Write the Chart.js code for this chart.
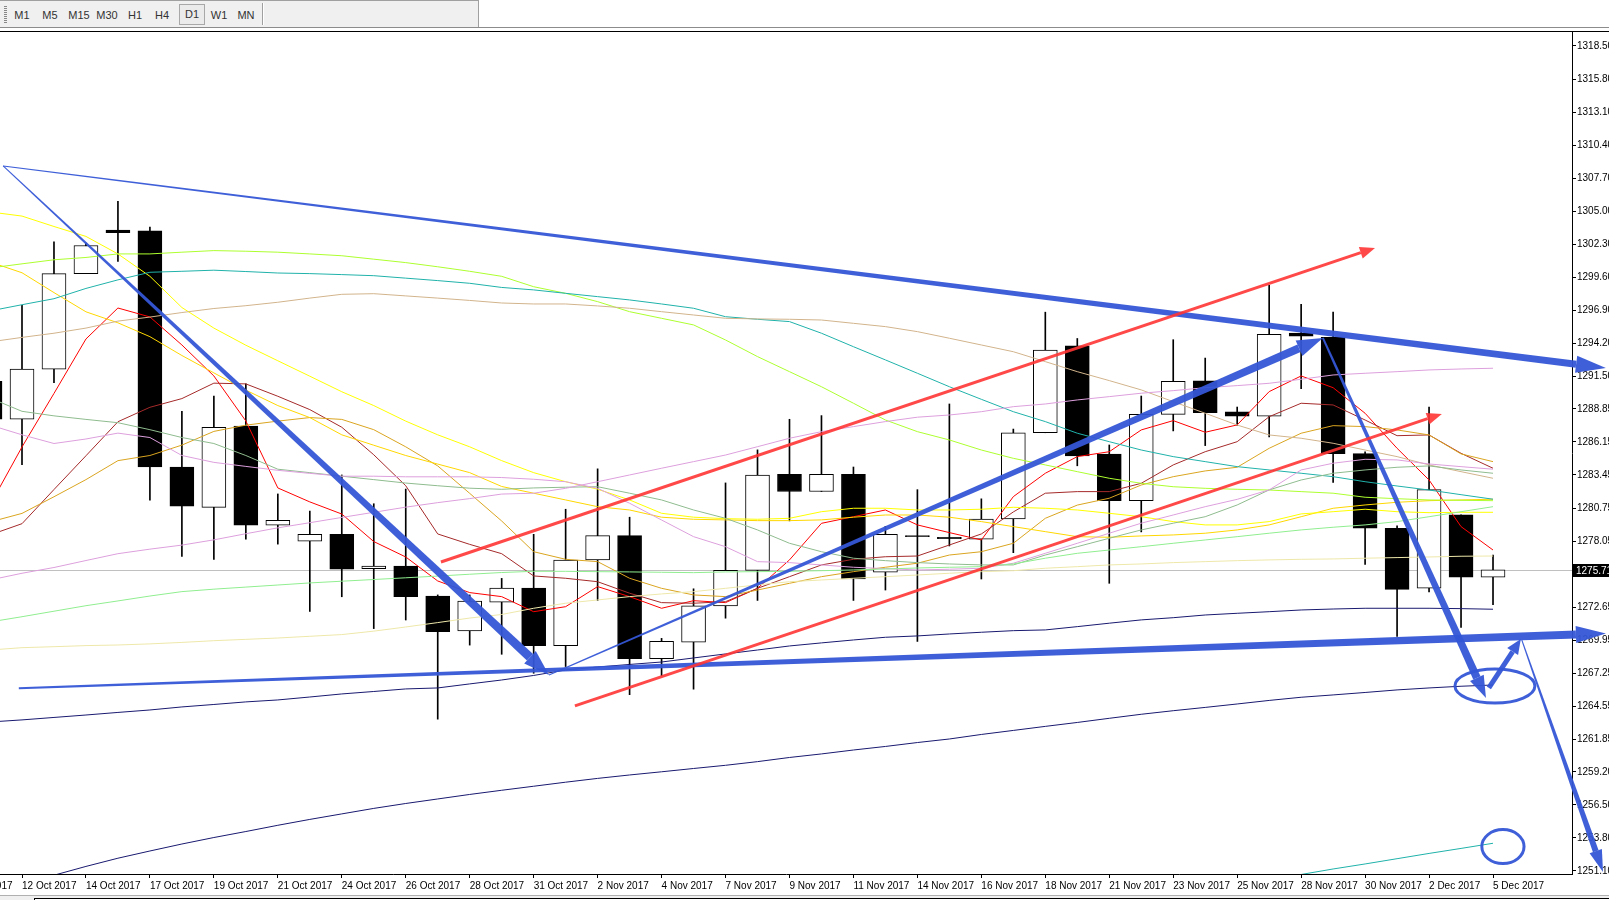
<!DOCTYPE html>
<html>
<head>
<meta charset="utf-8">
<script src="https://cdn.jsdelivr.net/npm/chart.js@4.4.1/dist/chart.umd.min.js"></script>
<style>
  html, body { margin: 0; padding: 0; background: #fff; }
  body { width: 1609px; height: 900px; position: relative; overflow: hidden; font-family: "Liberation Sans", Arial, sans-serif; }
  .bar { position: absolute; left: 0; top: 0; width: 478px; height: 26px; background: #f0f0f0; border-top: 1px solid #a0a0a0; border-right: 1px solid #a0a0a0; }
  .grip { position: absolute; left: 4px; top: 5px; width: 3px; height: 17px; background: repeating-linear-gradient(#888 0 1px, transparent 1px 2px); }
  .sep { position: absolute; left: 262px; top: 2px; width: 1px; height: 22px; background: #a0a0a0; border-right: 1px solid #fff; }
  .tf { position: absolute; top: 8px; width: 30px; text-align: center; font-size: 11px; line-height: 13px; color: #333; }
  .tf.on { top: 3px; height: 19px; line-height: 19px; border: 1px solid #a8a8a8; background: #ebebeb; width: 24px; }
  .hline { position: absolute; left: 0; width: 1609px; height: 1px; }
  .foot { position: absolute; left: 0; top: 895px; width: 1609px; height: 5px; background: #f0f0f0; border-top: 1px solid #b0b0b0; }
  .foot i { position: absolute; left: 34px; top: 2px; width: 1575px; height: 3px; border-top: 1px solid #000; border-left: 1px solid #000; background: #fff; }
  #wrap { position: absolute; left: 0; top: 32px; width: 1609px; height: 868px; }
</style>
</head>
<body>
<div class="bar">
  <div class="grip"></div>
  <div class="tf" style="left:7px">M1</div>
  <div class="tf" style="left:35px">M5</div>
  <div class="tf" style="left:64px">M15</div>
  <div class="tf" style="left:92px">M30</div>
  <div class="tf" style="left:120px">H1</div>
  <div class="tf" style="left:147px">H4</div>
  <div class="tf on" style="left:179px">D1</div>
  <div class="tf" style="left:204px">W1</div>
  <div class="tf" style="left:231px">MN</div>
  <div class="sep"></div>
</div>
<div class="hline" style="top:27px;background:#8c8c8c"></div>
<div class="hline" style="top:31px;background:#000"></div>
<div id="wrap"><canvas id="chart" width="1609" height="868"></canvas></div>
<div class="foot"><i></i></div>

<script>
// bar positions (0 = 12 Oct 2017), daily candles
const bars = [-1, 0, 1, 2, 3, 4, 5, 6, 7, 8, 9, 10, 11, 12, 13, 14, 15, 16, 17, 18, 19, 20, 21, 22, 23,
  24, 25, 26, 27, 28, 29, 30, 31, 32, 33, 34, 35, 36, 37, 38, 39, 40, 41, 42, 43, 44, 45, 46];

const open = [1291.1, 1288.0, 1292.1, 1299.9, 1303.45, 1303.4, 1284.1, 1280.8, 1287.45, 1279.35, 1278.05, 1278.6,
  1275.8, 1276.0, 1273.55, 1270.7, 1273.05, 1274.2, 1269.5, 1276.5, 1278.5, 1268.45, 1269.8, 1272.75, 1275.65,
  1283.5, 1282.1, 1283.5, 1275.5, 1278.5, 1278.35, 1278.2, 1279.85, 1286.9, 1294.0, 1285.15, 1281.35, 1288.4,
  1291.15, 1288.6, 1288.25, 1295.05, 1294.7, 1285.2, 1279.1, 1274.2, 1280.2, 1275.1];
const high = [1292.5, 1297.3, 1302.5, 1302.4, 1305.8, 1303.7, 1288.65, 1289.9, 1290.9, 1281.9, 1280.5, 1283.45,
  1281.1, 1282.3, 1273.65, 1273.65, 1275.0, 1278.6, 1280.65, 1283.95, 1280.0, 1270.1, 1274.15, 1282.8, 1285.5,
  1288.0, 1288.3, 1284.1, 1279.25, 1282.25, 1289.25, 1281.5, 1287.2, 1296.75, 1294.6, 1285.9, 1289.9, 1294.5,
  1293.0, 1289.0, 1298.95, 1297.4, 1296.75, 1285.35, 1279.3, 1289.0, 1280.2, 1276.9];
const low = [1287.0, 1284.3, 1291.0, 1299.9, 1300.9, 1281.4, 1276.8, 1276.55, 1278.2, 1277.8, 1272.3, 1273.5,
  1270.9, 1271.6, 1263.5, 1269.55, 1268.8, 1267.25, 1267.8, 1273.2, 1265.5, 1267.05, 1265.95, 1271.75, 1273.2,
  1279.7, 1282.1, 1273.2, 1274.05, 1269.85, 1277.65, 1274.95, 1277.1, 1286.9, 1284.2, 1274.6, 1278.8, 1287.05,
  1285.85, 1287.5, 1286.55, 1290.5, 1282.85, 1276.15, 1270.25, 1273.9, 1271.0, 1272.85];
const close = [1288.0, 1292.1, 1299.9, 1302.2, 1303.25, 1284.1, 1280.9, 1287.35, 1279.35, 1279.75, 1278.6, 1275.75,
  1276.0, 1273.5, 1270.65, 1273.15, 1274.2, 1269.5, 1276.5, 1278.5, 1268.45, 1269.85, 1272.75, 1275.65, 1283.45,
  1282.1, 1283.5, 1274.95, 1278.6, 1278.4, 1278.25, 1279.85, 1286.9, 1293.65, 1285.0, 1281.35, 1288.4, 1291.1,
  1288.55, 1288.25, 1294.95, 1294.8, 1285.2, 1279.1, 1274.1, 1282.25, 1275.1, 1275.71];

const lastPrice = 1275.71;

// moving averages, one value per bar
const maRed = [1281.0, 1285.74, 1290.11, 1294.56, 1297.09, 1296.36, 1294.07, 1291.54, 1287.86, 1282.39, 1281.25, 1280.26,
  1278.01, 1276.75, 1274.79, 1273.84, 1273.51, 1272.28, 1272.69, 1274.33, 1273.51, 1272.56, 1273.18, 1273.02, 1274.19,
  1276.51, 1279.5, 1280.04, 1280.59, 1279.37, 1278.74, 1278.14, 1281.68, 1283.59, 1284.95, 1285.35, 1287.13, 1287.89,
  1286.94, 1287.54, 1290.26, 1291.54, 1290.58, 1288.49, 1285.63, 1283.04, 1279.23, 1277.32];
const maBrown = [1278.55, 1279.47, 1282.26, 1285.02, 1287.8, 1288.98, 1289.69, 1290.95, 1290.89, 1289.88, 1288.79, 1287.35,
  1285.1, 1282.57, 1278.63, 1277.78, 1277.02, 1275.2, 1275.01, 1274.73, 1273.79, 1273.02, 1272.97, 1273.1, 1274.19,
  1275.14, 1276.1, 1276.56, 1276.77, 1276.83, 1277.73, 1278.63, 1280.43, 1281.96, 1282.09, 1282.09, 1282.77, 1284.27,
  1285.35, 1286.17, 1288.21, 1289.31, 1289.17, 1287.94, 1286.66, 1286.72, 1285.22, 1284.0];
const maOrange = [1279.61, 1280.31, 1281.67, 1283.07, 1284.62, 1285.04, 1285.89, 1287.01, 1287.52, 1287.85, 1288.14, 1287.99,
  1287.15, 1285.75, 1284.19, 1281.95, 1279.69, 1277.18, 1276.56, 1276.37, 1275.01, 1274.19, 1273.65, 1273.51, 1274.05,
  1274.6, 1275.14, 1275.55, 1275.91, 1276.24, 1276.91, 1277.18, 1277.87, 1279.91, 1280.99, 1281.55, 1282.63, 1283.31,
  1283.78, 1284.08, 1285.63, 1286.86, 1287.48, 1287.4, 1287.13, 1286.72, 1285.17, 1284.54];
const maGold = [1300.85, 1299.97, 1298.35, 1296.78, 1295.88, 1294.75, 1293.21, 1291.79, 1290.38, 1289.12, 1288.14, 1286.73,
  1285.88, 1285.04, 1284.34, 1283.64, 1282.51, 1281.96, 1281.41, 1280.86, 1280.59, 1280.0, 1279.83, 1279.78, 1279.72,
  1279.72, 1279.78, 1280.0, 1280.18, 1280.18, 1280.0, 1279.64, 1279.23, 1278.82, 1278.41, 1278.36, 1278.47, 1278.55,
  1278.69, 1278.96, 1279.37, 1280.04, 1280.73, 1281.0, 1281.22, 1281.35, 1281.41, 1281.47];
const maYellow = [1304.94, 1304.6, 1303.75, 1302.94, 1301.51, 1299.68, 1297.13, 1295.45, 1294.05, 1292.78, 1291.52, 1290.25,
  1289.12, 1287.85, 1286.73, 1285.75, 1284.62, 1283.64, 1282.9, 1282.29, 1281.41, 1280.32, 1280.0, 1279.88, 1279.83,
  1279.91, 1280.45, 1280.73, 1280.73, 1280.59, 1280.59, 1280.65, 1280.81, 1280.73, 1280.59, 1280.32, 1280.04, 1279.64,
  1279.37, 1279.37, 1279.64, 1280.27, 1280.45, 1280.65, 1280.45, 1280.37, 1280.4, 1280.4];
const maGreenYellow = [1300.36, 1300.7, 1301.03, 1301.22, 1301.51, 1301.51, 1301.65, 1301.78, 1301.73, 1301.65, 1301.51, 1301.36,
  1301.08, 1300.8, 1300.46, 1300.09, 1299.68, 1298.83, 1298.29, 1297.61, 1296.79, 1296.25, 1295.71, 1294.48, 1293.12,
  1291.89, 1290.66, 1289.31, 1287.94, 1286.99, 1286.31, 1285.49, 1284.81, 1284.27, 1283.72, 1283.18, 1282.77, 1282.49,
  1282.36, 1282.28, 1282.22, 1282.09, 1281.96, 1281.63, 1281.51, 1281.41, 1281.38, 1281.35];
const maSeaGreen = [1296.85, 1297.36, 1297.85, 1298.69, 1299.39, 1300.01, 1300.09, 1300.18, 1300.07, 1299.95, 1299.9, 1299.82,
  1299.73, 1299.53, 1299.33, 1299.11, 1298.77, 1298.57, 1298.29, 1298.02, 1297.75, 1297.42, 1297.07, 1296.38, 1296.17,
  1295.98, 1295.03, 1293.93, 1292.85, 1291.76, 1290.66, 1289.63, 1288.62, 1287.81, 1286.86, 1286.17, 1285.49, 1284.95,
  1284.54, 1284.13, 1283.86, 1283.59, 1283.31, 1282.9, 1282.55, 1282.22, 1281.84, 1281.47];
const maTan = [1294.32, 1294.69, 1295.03, 1295.45, 1296.02, 1296.35, 1296.72, 1297.05, 1297.28, 1297.56, 1297.9, 1298.21,
  1298.26, 1298.08, 1297.9, 1297.71, 1297.5, 1297.42, 1297.42, 1297.26, 1297.07, 1296.79, 1296.52, 1296.25, 1296.2,
  1296.17, 1296.11, 1295.84, 1295.57, 1295.16, 1294.62, 1294.07, 1293.52, 1292.71, 1291.89, 1291.16, 1290.4, 1289.44,
  1288.49, 1287.53, 1286.72, 1286.45, 1286.04, 1285.49, 1284.95, 1284.27, 1283.72, 1283.18];
const maDarkSea = [1289.74, 1288.65, 1288.28, 1287.99, 1287.72, 1287.15, 1286.51, 1286.02, 1285.04, 1283.92, 1283.64, 1283.35,
  1283.07, 1282.79, 1282.57, 1282.37, 1282.28, 1282.39, 1282.45, 1282.49, 1281.96, 1281.41, 1280.59, 1279.91, 1278.96,
  1277.87, 1277.18, 1276.65, 1276.45, 1276.29, 1276.18, 1276.1, 1276.1, 1276.91, 1277.59, 1278.28, 1278.96, 1279.51,
  1280.04, 1281.0, 1282.23, 1283.04, 1283.59, 1283.86, 1284.08, 1284.19, 1283.86, 1283.59];
const maPlum = [1287.53, 1286.73, 1286.02, 1286.39, 1286.87, 1286.51, 1285.04, 1284.48, 1284.15, 1283.83, 1283.58, 1283.35,
  1283.35, 1283.3, 1283.3, 1283.3, 1283.24, 1283.1, 1282.9, 1282.36, 1281.14, 1279.77, 1278.41, 1277.59, 1276.37,
  1276.29, 1276.1, 1275.91, 1275.8, 1275.69, 1275.75, 1275.83, 1276.24, 1277.05, 1277.87, 1278.69, 1279.51, 1280.18,
  1280.86, 1281.46, 1282.23, 1283.86, 1284.41, 1284.73, 1284.68, 1284.35, 1284.13, 1283.92];
const maViolet = [1274.87, 1275.42, 1275.89, 1276.46, 1277.02, 1277.39, 1277.72, 1278.15, 1278.65, 1279.13, 1279.55, 1279.98,
  1280.4, 1280.82, 1281.19, 1281.52, 1281.89, 1281.96, 1282.36, 1282.9, 1283.45, 1284.0, 1284.54, 1285.08, 1285.76,
  1286.45, 1286.99, 1287.4, 1287.81, 1288.17, 1288.35, 1288.62, 1289.03, 1289.25, 1289.58, 1289.85, 1290.13, 1290.34,
  1290.58, 1290.75, 1290.94, 1291.27, 1291.62, 1291.76, 1291.89, 1292.03, 1292.11, 1292.17];
const maLightGreen = [1271.44, 1271.87, 1272.32, 1272.77, 1273.16, 1273.56, 1273.92, 1274.12, 1274.29, 1274.46, 1274.63, 1274.77,
  1274.91, 1275.05, 1275.19, 1275.34, 1275.48, 1275.58, 1275.58, 1275.55, 1275.53, 1275.5, 1275.47, 1275.53, 1275.55,
  1275.58, 1275.63, 1275.69, 1275.77, 1275.85, 1275.91, 1275.96, 1276.18, 1276.65, 1277.05, 1277.32, 1277.59, 1277.87,
  1278.14, 1278.41, 1278.69, 1278.96, 1279.18, 1279.37, 1279.64, 1280.04, 1280.45, 1280.86];
const maPaleGold = [1269.15, 1269.34, 1269.42, 1269.51, 1269.56, 1269.65, 1269.77, 1269.91, 1270.02, 1270.13, 1270.27, 1270.41,
  1270.69, 1271.03, 1271.39, 1271.76, 1272.05, 1272.56, 1272.97, 1273.24, 1273.51, 1273.73, 1273.92, 1274.19, 1274.47,
  1274.73, 1274.87, 1275.01, 1275.14, 1275.28, 1275.42, 1275.55, 1275.63, 1275.83, 1275.96, 1276.1, 1276.18, 1276.29,
  1276.37, 1276.45, 1276.51, 1276.56, 1276.59, 1276.65, 1276.7, 1276.75, 1276.81, 1276.83];
const maNavy = [1263.27, 1263.44, 1263.64, 1263.84, 1264.05, 1264.25, 1264.5, 1264.7, 1264.91, 1265.07, 1265.31, 1265.56,
  1265.76, 1265.97, 1266.05, 1266.38, 1266.7, 1267.07, 1267.52, 1267.76, 1267.97, 1268.17, 1268.5, 1268.83, 1269.15,
  1269.48, 1269.73, 1269.97, 1270.19, 1270.3, 1270.46, 1270.6, 1270.73, 1270.79, 1271.06, 1271.34, 1271.61, 1271.79,
  1272.01, 1272.15, 1272.28, 1272.42, 1272.5, 1272.56, 1272.56, 1272.56, 1272.53, 1272.48];
const maNavySlow = [null, 1250.04, 1250.75, 1251.47, 1252.14, 1252.73, 1253.3, 1253.83, 1254.32, 1254.83, 1255.31, 1255.76,
  1256.21, 1256.61, 1256.98, 1257.35, 1257.69, 1258.02, 1258.35, 1258.66, 1258.94, 1259.2, 1259.47, 1259.73, 1260.03,
  1260.37, 1260.66, 1260.98, 1261.27, 1261.59, 1261.88, 1262.25, 1262.58, 1262.91, 1263.23, 1263.57, 1263.9, 1264.19,
  1264.46, 1264.74, 1265.03, 1265.29, 1265.48, 1265.68, 1265.89, 1266.05, 1266.19, 1266.29];
const tealBars = [39, 40, 41, 42, 43, 44, 45, 46];
const maTealSlow = [1250.4, 1250.81, 1251.26, 1251.67, 1252.1, 1252.53, 1252.94, 1253.36];

// axis labels
const xLabels = ['10 Oct 2017', '12 Oct 2017', '14 Oct 2017', '17 Oct 2017', '19 Oct 2017', '21 Oct 2017',
  '24 Oct 2017', '26 Oct 2017', '28 Oct 2017', '31 Oct 2017', '2 Nov 2017', '4 Nov 2017', '7 Nov 2017',
  '9 Nov 2017', '11 Nov 2017', '14 Nov 2017', '16 Nov 2017', '18 Nov 2017', '21 Nov 2017', '23 Nov 2017',
  '25 Nov 2017', '28 Nov 2017', '30 Nov 2017', '2 Dec 2017', '5 Dec 2017'];
const xLabelBars = [-2, 0, 2, 4, 6, 8, 10, 12, 14, 16, 18, 20, 22, 24, 26, 28, 30, 32, 34, 36, 38, 40, 42, 44, 46];
const yTicks = [1318.50, 1315.80, 1313.10, 1310.40, 1307.70, 1305.00, 1302.30, 1299.60, 1296.90, 1294.20, 1291.50,
  1288.85, 1286.15, 1283.45, 1280.75, 1278.05, 1275.35, 1272.65, 1269.95, 1267.25, 1264.55, 1261.85, 1259.20,
  1256.50, 1253.80, 1251.10];

// hand drawn objects: [bar, bar] and [price, price] anchors
const arrowBars = [[-0.59, 49.53], [-0.59, 16.48], [-0.10, 49.53], [16.48, 40.68], [40.68, 45.78],
  [45.87, 46.87], [46.90, 49.44], [13.10, 42.31], [17.29, 44.40]];
const arrowPrices = [[1308.70, 1292.19], [1308.70, 1267.11], [1266.03, 1270.50], [1267.11, 1294.65], [1294.65, 1265.23],
  [1266.05, 1270.05], [1269.97, 1251.02], [1276.34, 1302.00], [1264.58, 1288.44]];
const ringBars = [46.06, 46.31];
const ringPrices = [1266.21, 1253.09];
const ringHalfBars = [1.25, 0.66];
const ringHalfPrices = [1.39, 1.39];

const BLUE = 'rgba(52, 86, 214, 0.95)';
const RED = 'rgba(255, 52, 52, 0.9)';
const arrowStyle = [
  { c: BLUE, w0: 1, w1: 7, hl: 30, hw: 17 },
  { c: BLUE, w0: 1, w1: 9, hl: 26, hw: 17 },
  { c: BLUE, w0: 2, w1: 8, hl: 30, hw: 17 },
  { c: BLUE, w0: 1, w1: 8, hl: 26, hw: 17 },
  { c: BLUE, w0: 2, w1: 8, hl: 22, hw: 15 },
  { c: BLUE, w0: 5, w1: 5, hl: 15, hw: 13 },
  { c: BLUE, w0: 1, w1: 6, hl: 22, hw: 13 },
  { c: RED, w0: 3, w1: 3, hl: 15, hw: 12 },
  { c: RED, w0: 3, w1: 3, hl: 15, hw: 12 }
];

function drawArrow(ctx, x1, y1, x2, y2, s) {
  const len = Math.hypot(x2 - x1, y2 - y1);
  const ux = (x2 - x1) / len, uy = (y2 - y1) / len;
  const nx = -uy, ny = ux;
  const bx = x2 - ux * s.hl, by = y2 - uy * s.hl;
  ctx.fillStyle = s.c;
  ctx.beginPath();
  ctx.moveTo(x1 + nx * s.w0 / 2, y1 + ny * s.w0 / 2);
  ctx.lineTo(bx + nx * s.w1 / 2, by + ny * s.w1 / 2);
  ctx.lineTo(bx - nx * s.w1 / 2, by - ny * s.w1 / 2);
  ctx.lineTo(x1 - nx * s.w0 / 2, y1 - ny * s.w0 / 2);
  ctx.closePath();
  ctx.fill();
  ctx.beginPath();
  ctx.moveTo(x2, y2);
  ctx.lineTo(bx + nx * s.hw / 2, by + ny * s.hw / 2);
  ctx.lineTo(bx - nx * s.hw / 2, by - ny * s.hw / 2);
  ctx.closePath();
  ctx.fill();
}

const markup = {
  id: 'markup',
  beforeDatasetsDraw(chart) {
    const { ctx, chartArea: a, scales: { y } } = chart;
    const py = Math.round(y.getPixelForValue(lastPrice)) + 0.5;
    ctx.save();
    ctx.strokeStyle = '#c0c0c0';
    ctx.lineWidth = 1;
    ctx.beginPath();
    ctx.moveTo(a.left, py);
    ctx.lineTo(a.right, py);
    ctx.stroke();
    ctx.restore();
  },
  afterDatasetsDraw(chart) {
    const { ctx, chartArea: a, scales: { x, y } } = chart;
    ctx.save();
    // last price tag on the axis
    const py = Math.round(y.getPixelForValue(lastPrice));
    ctx.fillStyle = '#000';
    ctx.fillRect(a.right + 1, py - 6, chart.width - a.right, 13);
    ctx.fillStyle = '#fff';
    ctx.font = '10px "Liberation Sans"';
    ctx.textBaseline = 'middle';
    ctx.fillText(lastPrice.toFixed(2), a.right + 4, py + 1);

    arrowBars.forEach((b, k) => {
      const p = arrowPrices[k];
      drawArrow(ctx, x.getPixelForValue(b[0]), y.getPixelForValue(p[0]),
        x.getPixelForValue(b[1]), y.getPixelForValue(p[1]), arrowStyle[k]);
    });

    ctx.strokeStyle = BLUE;
    ctx.lineWidth = 3;
    ringBars.forEach((b, k) => {
      const cx = x.getPixelForValue(b), cy = y.getPixelForValue(ringPrices[k]);
      const rx = x.getPixelForValue(b + ringHalfBars[k]) - cx;
      const ry = cy - y.getPixelForValue(ringPrices[k] + ringHalfPrices[k]);
      ctx.beginPath();
      ctx.ellipse(cx, cy, rx, ry, 0, 0, Math.PI * 2);
      ctx.stroke();
    });
    ctx.restore();
  }
};

const maLines = [
  [maPaleGold, '#eee8aa'], [maLightGreen, '#90ee90'], [maViolet, '#dda0dd'], [maPlum, '#dda0dd'],
  [maDarkSea, '#8fbc8f'], [maTan, '#d2b48c'], [maSeaGreen, '#20b2aa'], [maGreenYellow, '#adff2f'],
  [maYellow, '#ffff00'], [maGold, '#ffd700'], [maOrange, '#daa520'], [maBrown, '#a52a2a'],
  [maRed, '#ff0000'], [maNavy, '#191970'], [maNavySlow, '#191970']
];

const datasets = maLines.map(([vals, color]) => ({
  type: 'line',
  data: bars.map((b, k) => ({ x: b, y: vals[k] })),
  borderColor: color,
  borderWidth: 1,
  pointRadius: 0,
  tension: 0,
  order: 5
}));
datasets.push({
  type: 'line',
  data: tealBars.map((b, k) => ({ x: b, y: maTealSlow[k] })),
  borderColor: '#20b2aa', borderWidth: 1, pointRadius: 0, tension: 0, order: 5
});
datasets.push({
  type: 'bar',
  data: bars.map((b, k) => ({ x: b, y: [open[k], close[k]] })),
  backgroundColor: bars.map((b, k) => close[k] >= open[k] ? '#ffffff' : '#000000'),
  borderColor: '#000',
  borderWidth: 1,
  borderSkipped: false,
  barThickness: 24,
  grouped: false,
  order: 20
});
datasets.push({
  type: 'bar',
  data: bars.map((b, k) => ({ x: b, y: [low[k], high[k]] })),
  backgroundColor: '#000',
  borderWidth: 0,
  barThickness: 1,
  grouped: false,
  order: 30
});

const tickFont = { family: 'Liberation Sans', size: 10 };

new Chart(document.getElementById('chart'), {
  type: 'line',
  data: { datasets },
  options: {
    responsive: false,
    animation: false,
    events: [],
    layout: { padding: 0 },
    plugins: { legend: { display: false }, tooltip: { enabled: false } },
    scales: {
      x: {
        type: 'linear',
        min: -0.688,
        max: 48.47,
        offset: false,
        grid: { display: true, offset: false, drawOnChartArea: false, drawTicks: true, tickLength: 4, color: '#000' },
        border: { display: true, color: '#000', width: 1 },
        ticks: {
          autoSkip: false, maxRotation: 0, minRotation: 0, align: 'start', padding: 2,
          color: '#000', font: tickFont,
          callback: (v, i) => xLabels[i]
        },
        afterBuildTicks: s => { s.ticks = xLabelBars.map(v => ({ value: v })); },
        afterFit: s => { s.height = 26; s.paddingLeft = 0; s.paddingRight = 0; s.paddingTop = 0; s.paddingBottom = 0; }
      },
      y: {
        type: 'linear',
        position: 'right',
        min: 1250.85,
        max: 1319.64,
        beginAtZero: false,
        grid: { display: true, drawOnChartArea: false, drawTicks: true, tickLength: 4, color: '#000' },
        border: { display: true, color: '#000', width: 1 },
        ticks: {
          autoSkip: false, padding: 1, color: '#000', font: tickFont,
          callback: v => Number(v).toFixed(2)
        },
        afterBuildTicks: s => { s.ticks = yTicks.map(v => ({ value: v })); },
        afterFit: s => { s.width = 37; s.paddingTop = 0; s.paddingBottom = 0; s.paddingLeft = 0; s.paddingRight = 0; }
      }
    }
  },
  plugins: [markup]
});
</script>
</body>
</html>
